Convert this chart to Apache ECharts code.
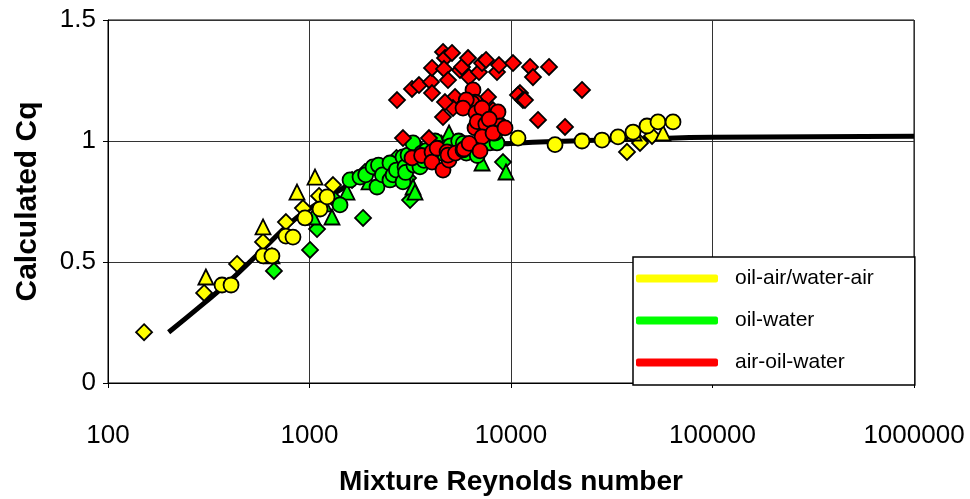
<!DOCTYPE html>
<html>
<head>
<meta charset="utf-8">
<script src="https://cdn.jsdelivr.net/npm/echarts@6/dist/echarts.min.js"></script>
<style>
  html, body { margin: 0; padding: 0; background: #fff; }
  #chart { width: 970px; height: 499px; }
</style>
</head>
<body>
<div id="chart"></div>
<script>
// x = mixture Reynolds number, y = calculated Cq
var xTicks = [100, 1000, 10000, 100000, 1000000];
var yTicks = [0, 0.5, 1, 1.5];
var legendNames = ['oil-air/water-air', 'oil-water', 'air-oil-water'];

// fitted curve
var fitCurve = [[200, 0.21], [300, 0.33], [400, 0.42], [600, 0.56], [800, 0.66], [1000, 0.72],
  [1500, 0.81], [2000, 0.86], [3000, 0.92], [5000, 0.96], [7000, 0.98], [10000, 0.99],
  [20000, 1.0], [50000, 1.01], [100000, 1.015], [1000000, 1.02]];

// oil-air / water-air (yellow)
var yellowDiamond = [[151, 0.21], [300, 0.372], [437, 0.492], [588, 0.583], [764, 0.665], [928, 0.723],
  [1115, 0.773], [1308, 0.818], [37644, 0.955], [43680, 0.992], [50110, 1.021]];
var yellowTriangle = [[306, 0.438], [588, 0.645], [867, 0.789], [1065, 0.851], [40780, 1.033], [56800, 1.033]];
var yellowCircle = [[368, 0.405], [408, 0.405], [588, 0.525], [651, 0.525], [764, 0.607], [828, 0.603],
  [950, 0.682], [1128, 0.719], [1222, 0.769], [10832, 1.012], [16538, 0.985], [22509, 1.0],
  [28295, 1.004], [33969, 1.017], [40326, 1.037], [47310, 1.062], [53650, 1.079], [63680, 1.079]];

// oil-water (green)
var greenDiamond = [[666, 0.463], [1006, 0.55], [1090, 0.636], [1844, 0.682], [1339, 0.756], [3155, 0.756],
  [1626, 0.839], [1886, 0.872], [3083, 0.847], [3456, 0.975], [9128, 0.913], [2300, 0.88], [2700, 0.93], [4500, 0.99]];
var greenTriangle = [[651, 0.525], [1041, 0.686], [1293, 0.686], [1180, 0.74], [1535, 0.789], [1975, 0.831],
  [2425, 0.847], [3264, 0.81], [3339, 0.789], [3743, 0.93], [4925, 1.033], [7183, 0.909], [9446, 0.872]];
var greenCircle = [[1417, 0.736], [1589, 0.839], [1781, 0.851], [1900, 0.86], [2067, 0.893], [2163, 0.81],
  [2200, 0.9], [2300, 0.86], [2508, 0.909], [2508, 0.839], [2600, 0.86], [2700, 0.88], [2911, 0.831],
  [2911, 0.934], [2979, 0.893], [3000, 0.87], [3083, 0.942], [3264, 0.992], [3300, 0.9], [3535, 0.893],
  [3600, 0.95], [3700, 0.92], [3800, 0.96], [4000, 0.93], [4200, 1.0], [4300, 0.97], [4400, 0.95],
  [5000, 0.98], [5200, 0.95], [5500, 1.0], [5800, 0.99], [6000, 0.95], [6500, 0.97], [6800, 0.94],
  [7868, 0.992], [8521, 0.992], [8330, 1.033]];

// air-oil-water (red)
var redDiamond = [[2719, 1.169], [3226, 1.215], [3495, 1.231], [4009, 1.244], [4055, 1.302], [4055, 1.198],
  [4598, 1.368], [4704, 1.343], [5095, 1.364], [4651, 1.298], [4868, 1.252], [5274, 1.182], [5154, 1.136],
  [4598, 1.099], [4704, 1.161], [5584, 1.293], [5713, 1.306], [6118, 1.343], [6189, 1.264], [6940, 1.285],
  [7183, 1.322], [7516, 1.335], [8521, 1.285], [8720, 1.314], [10233, 1.322], [12427, 1.306], [12855, 1.264],
  [15440, 1.306], [11081, 1.198], [10832, 1.19], [11467, 1.169], [11731, 1.169], [13614, 1.087], [7690, 1.182],
  [8142, 1.128], [8820, 1.074], [2911, 1.012], [3918, 1.012], [18535, 1.058], [22509, 1.211]];
var redCircle = [[6478, 1.211], [6628, 1.161], [6403, 1.157], [6000, 1.17], [5779, 1.136], [6705, 1.116],
  [7183, 1.136], [8619, 1.12], [8820, 1.062], [6628, 1.054], [6800, 1.08], [7500, 1.07], [7800, 1.09],
  [7183, 1.017], [8142, 1.033], [9340, 1.054], [3226, 0.93], [3600, 0.94], [4055, 0.955], [4055, 0.913],
  [4300, 0.97], [4598, 0.88], [4925, 0.93], [4813, 0.955], [4925, 0.921], [4868, 0.942], [5300, 0.95],
  [5779, 0.963], [5846, 0.967], [6200, 0.99], [7020, 0.959]];

var YELLOW = '#FFFF00', GREEN = '#00FF00', RED = '#FF0000';
var FONT = "'Liberation Sans', Arial, sans-serif";

function pts(name, data, symbol, color, size) {//one scatter group
  return {
    name: name, type: 'scatter', data: data, symbol: symbol, symbolSize: size,
    itemStyle: { color: color, borderColor: '#000', borderWidth: 1.8, opacity: 1 },
    emphasis: { disabled: true }, z: 3
  };
}
function legendOnly(name, color) {//empty series just for the legend swatch
  return { name: name, type: 'line', data: [], color: color, lineStyle: { color: color } };
}

var chart = echarts.init(document.getElementById('chart'), null, { renderer: 'canvas' });
chart.setOption({
  animation: false,
  grid: { left: 108, right: 56, top: 20, bottom: 116, show: true, borderColor: '#000', borderWidth: 1,
    containLabel: false, outerBoundsMode: 'none' },
  xAxis: {
    type: 'log', logBase: 10, min: xTicks[0], max: xTicks[xTicks.length - 1],
    name: 'Mixture Reynolds number', nameLocation: 'middle', nameGap: 85,
    nameTextStyle: { fontFamily: FONT, fontSize: 28, fontWeight: 'bold', color: '#000' },
    axisLine: { lineStyle: { color: '#000', width: 1 } },
    axisTick: { show: true, inside: false, length: 5, lineStyle: { color: '#000' } },
    minorTick: { show: false },
    axisLabel: { fontFamily: FONT, fontSize: 26, color: '#000', margin: 40,
      formatter: function (v) { return String(Math.round(v)); } },
    splitLine: { show: true, lineStyle: { color: '#333', width: 1 } }
  },
  yAxis: {
    type: 'value', min: yTicks[0], max: yTicks[yTicks.length - 1], interval: 0.5,
    name: 'Calculated Cq', nameLocation: 'middle', nameGap: 65,
    nameTextStyle: { fontFamily: FONT, fontSize: 30, fontWeight: 'bold', color: '#000' },
    axisLine: { show: true, lineStyle: { color: '#000', width: 1 } },
    axisTick: { show: true, length: 5, lineStyle: { color: '#000' } },
    axisLabel: { fontFamily: FONT, fontSize: 26, color: '#000', margin: 12 },
    splitLine: { show: true, lineStyle: { color: '#333', width: 1 } }
  },
  legend: {
    orient: 'vertical', left: 633, top: 257,
    data: legendNames, icon: 'roundRect', itemWidth: 82, itemHeight: 8, itemGap: 21,
    padding: [11, 41, 12, 3],
    backgroundColor: '#fff', borderColor: '#000', borderWidth: 1.5,
    textStyle: { fontFamily: FONT, fontSize: 21, color: '#000', padding: [0, 0, 0, 12] },
    selectedMode: false, z: 10
  },
  series: [
    legendOnly(legendNames[0], YELLOW),
    legendOnly(legendNames[1], GREEN),
    legendOnly(legendNames[2], RED),
    { name: 'fit', type: 'line', data: fitCurve, smooth: true, symbol: 'none',
      lineStyle: { color: '#000', width: 5 }, z: 2, silent: true },
    pts('g-d', greenDiamond, 'diamond', GREEN, 16),
    pts('g-t', greenTriangle, 'triangle', GREEN, 15),
    pts('g-c', greenCircle, 'circle', GREEN, 15),
    pts('y-d', yellowDiamond, 'diamond', YELLOW, 16),
    pts('y-t', yellowTriangle, 'triangle', YELLOW, 15),
    pts('y-c', yellowCircle, 'circle', YELLOW, 15),
    pts('r-d', redDiamond, 'diamond', RED, 16),
    pts('r-c', redCircle, 'circle', RED, 15)
  ]
});
</script>
</body>
</html>
